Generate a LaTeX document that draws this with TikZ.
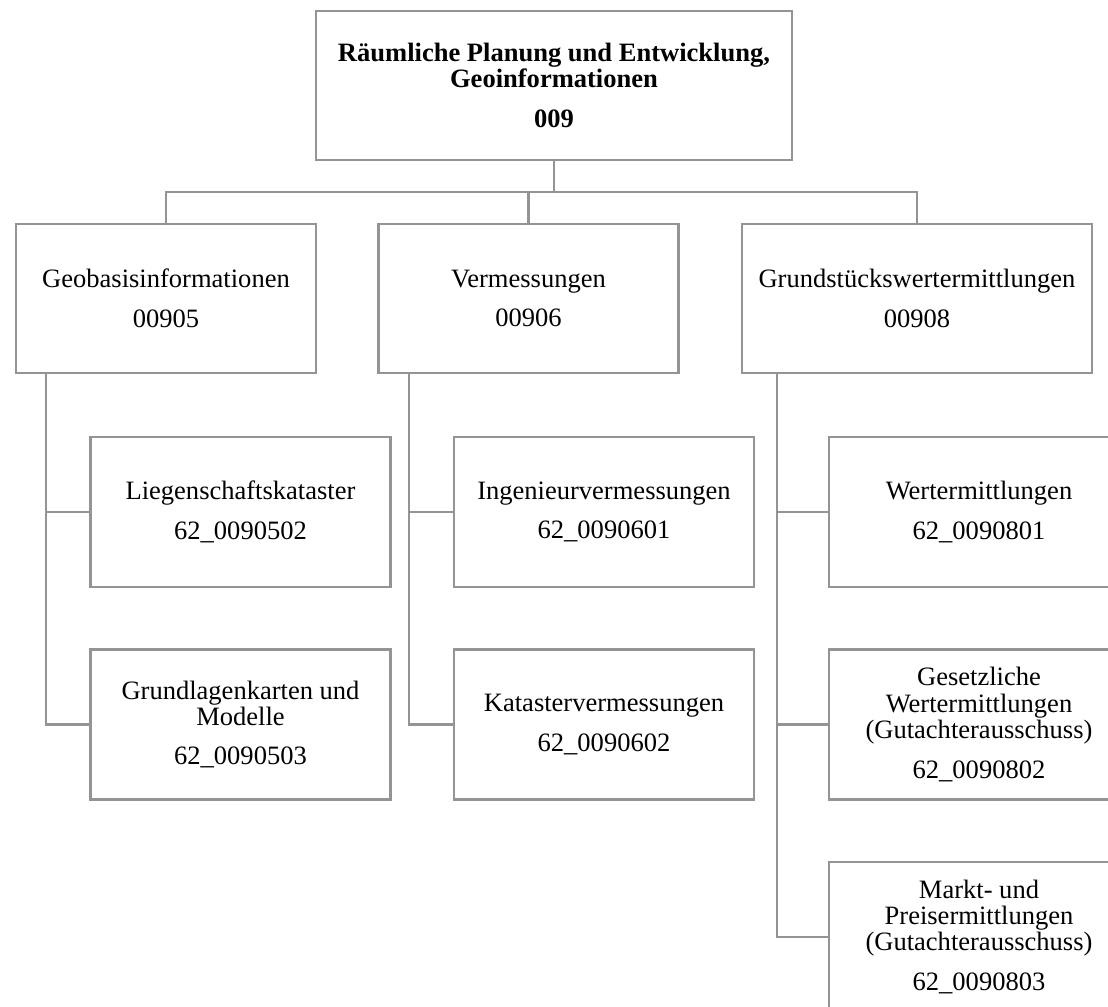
\documentclass[tikz,border=0pt]{standalone}
\usepackage{fontspec}
\setmainfont{Liberation Serif}
\definecolor{linegray}{RGB}{148,148,148}
\begin{document}
\begin{tikzpicture}[x=0.75pt,y=-0.75pt,
  orgbox/.style={draw=linegray, line width=1.8pt, fill=white, align=center,
    inner sep=0pt, minimum width=225pt, minimum height=111.75pt,
    font=\fontsize{19.9pt}{19.7pt}\selectfont},
  conn/.style={draw=linegray, line width=1.8pt}]
\fill[white] (0,0) rectangle (1108,1007);
\clip (0,0) rectangle (1108,1007);
\node[orgbox, minimum width=357pt] (top) at (554,85.5)
  {\textbf{Räumliche Planung und Entwicklung,}\\\textbf{Geoinformationen}\\[10pt]\textbf{009}};
\node[orgbox] (geo) at (166,298.5) {Geobasisinformationen\\[10pt]00905};
\node[orgbox] (verm) at (528.5,298.5) {Vermessungen\\[10pt]00906};
\node[orgbox, minimum width=262.5pt] (gw) at (917,298.5) {Grundstückswertermittlungen\\[10pt]00908};
\node[orgbox, minimum height=112.5pt] (lieg) at (240.5,512) {Liegenschaftskataster\\[10pt]62\_0090502};
\node[orgbox, minimum height=112.5pt] (grundl) at (240.5,724.5) {Grundlagenkarten und\\Modelle\\[10pt]62\_0090503};
\node[orgbox, minimum height=112.5pt] (ing) at (604,512) {Ingenieurvermessungen\\[10pt]62\_0090601};
\node[orgbox, minimum height=112.5pt] (kat) at (604,724.5) {Katastervermessungen\\[10pt]62\_0090602};
\node[orgbox, minimum height=112.5pt] (wert) at (979,512) {Wertermittlungen\\[10pt]62\_0090801};
\node[orgbox, minimum height=112.5pt] (gesetz) at (979,724.5) {Gesetzliche\\Wertermittlungen\\(Gutachterausschuss)\\[10pt]62\_0090802};
\node[orgbox, minimum height=112.5pt] (markt) at (979,937) {Markt- und\\Preisermittlungen\\(Gutachterausschuss)\\[10pt]62\_0090803};
% bus level 1
\coordinate (bus) at (0,192);
\draw[conn] (top.south) -- (top.south |- bus);
\draw[conn] (geo.north) -- (geo.north |- bus) -- (gw.north |- bus) -- (gw.north);
\draw[conn] (verm.north) -- (verm.north |- bus);
% spines
\coordinate (gspineA) at (46,0);
\coordinate (gspineB) at (409,0);
\coordinate (gspineC) at (777,0);
\draw[conn] (geo.south -| gspineA) |- (grundl.west);
\draw[conn] (gspineA |- lieg.west) -- (lieg.west);
\draw[conn] (verm.south -| gspineB) |- (kat.west);
\draw[conn] (gspineB |- ing.west) -- (ing.west);
\draw[conn] (gw.south -| gspineC) |- (markt.west);
\draw[conn] (gspineC |- wert.west) -- (wert.west);
\draw[conn] (gspineC |- gesetz.west) -- (gesetz.west);
\end{tikzpicture}
\end{document}
